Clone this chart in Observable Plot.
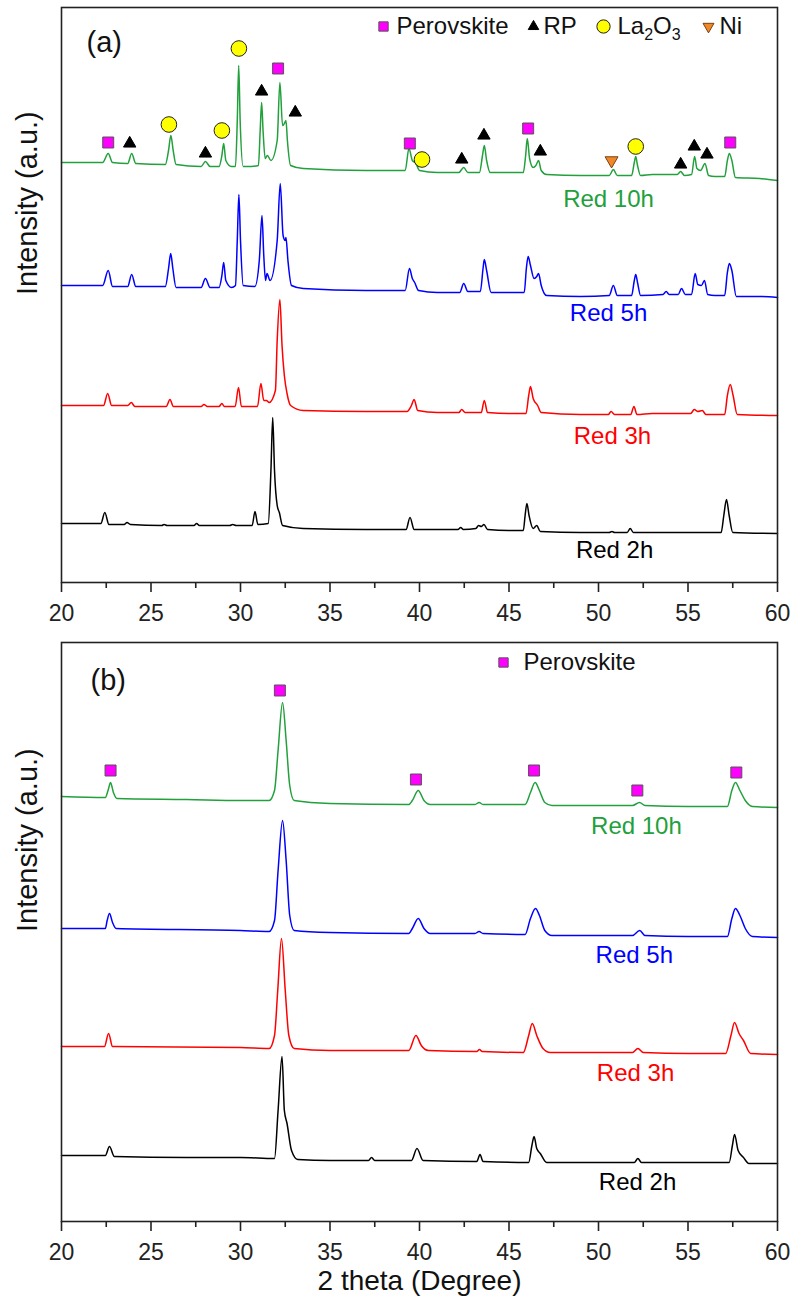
<!DOCTYPE html>
<html>
<head>
<meta charset="utf-8">
<script src="https://cdn.jsdelivr.net/npm/d3@7"></script>
<script src="https://cdn.jsdelivr.net/npm/@observablehq/plot@0.6"></script>
<style>
  html, body { margin: 0; padding: 0; background: #fff; }
  #chart svg { display: block; }
</style>
</head>
<body>
<div id="chart"></div>
<script>
// ---------- DATA (2θ in degrees, intensity in stacked arbitrary units) ----------
const majorTicks = [20, 25, 30, 35, 40, 45, 50, 55, 60];
const minorTicks = [22.5, 27.5, 32.5, 37.5, 42.5, 47.5, 52.5, 57.5];

// Panel (a)
const a_red10h = [[20,438],[22.3,438],[22.61,447],[22.85,438],[23.7,437],[23.92,447],[24.15,437],[25.8,436],[25.98,450],[26.11,465],[26.24,450],[26.4,436],[27.8,434],[28.04,439],[28.3,434],[28.8,434],[28.96,445],[29.06,457],[29.18,440],[29.5,434],[29.72,434],[29.82,480],[29.9,535],[29.98,480],[30.15,434],[30.6,434],[31.0,435],[31.1,470],[31.18,498],[31.26,470],[31.38,442],[31.5,445],[31.7,440],[32.05,460],[32.2,518],[32.35,475],[32.48,478],[32.54,480],[32.62,460],[32.8,435],[33.5,432],[37.0,430],[39.2,430],[39.41,452],[39.6,440],[39.8,437],[40.0,430],[41.0,428],[42.2,428],[42.47,433],[42.7,428],[43.35,428],[43.52,445],[43.62,455],[43.75,440],[43.95,428],[45.0,428],[45.8,428],[45.93,445],[46.02,462],[46.15,442],[46.35,433],[46.5,435],[46.65,440],[46.8,430],[47.1,426],[49.0,425],[50.6,425],[50.83,431],[51.05,425],[51.85,425],[52.0,438],[52.08,444],[52.17,436],[52.35,425],[53.0,426],[54.4,426],[54.59,429],[54.8,425],[55.2,426],[55.37,444],[55.5,432],[55.7,430],[55.95,437],[56.15,425],[56.5,424],[57.05,424],[57.2,440],[57.31,447],[57.45,440],[57.65,423],[59.0,422],[60,420]];
const a_red5h = [[20,315],[22.3,315],[22.61,330],[22.85,314],[23.7,314],[23.92,326],[24.15,314],[25.8,314],[25.98,332],[26.1,347],[26.22,332],[26.4,313],[27.8,313],[28.04,322],[28.3,313],[28.8,313],[28.96,325],[29.06,338],[29.18,320],[29.5,313],[29.72,315],[29.82,360],[29.91,406],[30.0,360],[30.15,315],[30.8,314],[31.05,340],[31.2,385],[31.3,345],[31.4,320],[31.48,327],[31.65,320],[32.05,360],[32.22,417],[32.38,365],[32.5,360],[32.54,363],[32.65,340],[32.85,315],[33.5,312],[37,310],[39.2,310],[39.44,332],[39.6,322],[39.73,318],[39.95,310],[41,308],[42.25,308],[42.47,317],[42.7,309],[43.4,309],[43.55,332],[43.62,341],[43.75,330],[44.0,308],[45,308],[45.85,308],[45.97,332],[46.07,344],[46.2,335],[46.4,322],[46.55,324],[46.65,327],[46.8,315],[47.1,305],[49,304],[50.6,305],[50.83,315],[51.05,305],[51.85,305],[52.0,320],[52.08,326],[52.18,318],[52.35,305],[53.6,306],[53.78,309],[53.95,306],[54.45,306],[54.64,312],[54.85,306],[55.2,306],[55.4,327],[55.55,316],[55.75,315],[55.92,320],[56.1,306],[56.5,305],[57.05,305],[57.2,328],[57.31,337],[57.45,330],[57.7,304],[59,304],[60,303]];
const a_red3h = [[20,195],[22.35,195],[22.58,207],[22.8,195],[23.7,195],[23.9,198],[24.1,194],[25.85,194],[26.06,201],[26.25,194],[27.8,194],[27.96,196],[28.15,194],[28.8,194],[28.96,197],[29.1,194],[29.7,194],[29.89,213],[30.05,194],[30.95,194],[31.14,217],[31.3,200],[31.45,200],[31.6,198],[31.95,210],[32.05,260],[32.2,301],[32.32,255],[32.45,225],[32.6,207],[32.8,195],[33.5,190],[37,189],[39.3,189],[39.55,195],[39.7,201],[39.9,190],[41,188],[42.2,188],[42.36,191],[42.55,188],[43.45,188],[43.62,200],[43.8,188],[45,187],[45.95,187],[46.1,205],[46.2,214],[46.35,202],[46.6,195],[46.8,188],[49,186],[50.55,186],[50.7,189],[50.9,186],[51.8,186],[51.98,194],[52.15,186],[53,187],[55.15,187],[55.35,191],[55.55,189],[55.8,190],[56.0,186],[57.05,186],[57.2,205],[57.36,216],[57.52,205],[57.75,186],[60,185]];
const a_red2h = [[20,77],[22.2,77],[22.42,88],[22.65,76],[23.5,76],[23.66,78],[23.85,76],[25.6,75],[25.73,76],[25.9,75],[27.4,75],[27.55,77],[27.7,75],[29.4,75],[29.57,76],[29.75,75],[30.65,75],[30.81,89],[30.97,76],[31.55,77],[31.7,130],[31.8,183],[31.9,130],[32.05,95],[32.17,88],[32.35,75],[33.5,72],[37,71],[39.25,71],[39.47,83],[39.7,71],[41,71],[42.15,71],[42.3,73],[42.45,71],[43.15,72],[43.3,75],[43.45,74],[43.6,76],[43.8,71],[45,70],[45.8,70],[45.9,85],[46.0,97],[46.12,85],[46.35,72],[46.55,75],[46.75,69],[49,68],[50.6,68],[50.75,69],[50.9,68],[51.6,68],[51.77,72],[51.95,68],[54,68],[56.85,68],[57.0,85],[57.15,101],[57.3,85],[57.5,68],[60,67]];

// Panel (a) phase markers [2θ, intensity]
const a_perovskite = [[22.61,458],[32.1,532],[39.46,457],[46.07,472],[57.36,458]];
const a_rp = [[23.81,457],[28.04,447],[31.18,509],[33.06,488],[42.36,441],[43.6,465],[46.75,449],[54.59,436],[55.35,454],[56.06,446]];
const a_la2o3 = [[26.0,476],[28.96,470],[29.91,552],[40.14,441],[52.08,454]];
const a_ni = [[50.73,440]];

// Panel (b)
const b_red10h = [[20,454],[22.45,453],[22.6,460],[22.74,468],[22.9,458],[23.1,452],[27,451],[30,450],[31.6,450],[31.9,460],[32.1,500],[32.35,548],[32.55,510],[32.75,465],[33.0,450],[35,447],[39.4,446],[39.6,450],[39.93,460],[40.25,450],[40.6,446],[43.1,446],[43.33,448],[43.55,446],[45.9,446],[46.2,458],[46.46,468],[46.7,460],[47.0,448],[47.4,445],[51.9,445],[52.29,448],[52.6,445],[55,444],[57.2,444],[57.45,460],[57.65,468],[57.9,460],[58.2,450],[58.6,444],[60,443]];
const b_red5h = [[20,322],[22.45,322],[22.55,330],[22.68,337],[22.85,328],[23.05,322],[30,320],[31.6,319],[31.9,330],[32.1,380],[32.35,430],[32.55,390],[32.75,335],[33.0,320],[35,318],[39.4,317],[39.6,322],[39.93,332],[40.25,322],[40.6,317],[43.1,317],[43.33,319],[43.55,317],[45.9,316],[46.2,332],[46.48,342],[46.7,335],[47.0,320],[47.4,315],[51.9,315],[52.3,320],[52.6,315],[55,314],[57.2,314],[57.45,332],[57.65,342],[57.9,335],[58.2,322],[58.6,314],[60,313]];
const b_red3h = [[20,204],[22.4,204],[22.63,217],[22.85,204],[30,203],[31.6,202],[31.9,215],[32.08,260],[32.29,312],[32.5,260],[32.7,215],[33.0,202],[35,200],[39.4,200],[39.8,215],[40.1,205],[40.5,200],[43.2,199],[43.35,201],[43.5,199],[45.8,198],[46.1,215],[46.3,227],[46.55,215],[46.9,202],[47.3,198],[51.9,198],[52.2,202],[52.5,198],[55,197],[57.1,197],[57.4,215],[57.6,228],[57.85,217],[58.1,210],[58.5,197],[60,196]];
const b_red2h = [[20,95],[22.45,95],[22.68,104],[22.95,94],[27,93],[30,93],[31.9,92],[32.1,140],[32.32,194],[32.45,140],[32.6,127],[32.85,100],[33.2,91],[35,90],[37.15,90],[37.32,93],[37.5,90],[39.55,90],[39.86,102],[40.2,90],[43.2,89],[43.38,96],[43.55,89],[46.1,88],[46.28,105],[46.4,114],[46.55,102],[46.75,97],[47.1,88],[52.0,88],[52.2,92],[52.4,88],[55,88],[57.3,88],[57.48,105],[57.6,116],[57.8,100],[58.1,93],[58.4,87],[60,87]];
const b_perovskite = [[22.74,480],[32.2,560],[39.8,471],[46.4,480],[52.17,460],[57.7,478]];

// Series labels [2θ, intensity]
const seriesNames = ["Red 10h", "Red 5h", "Red 3h", "Red 2h"];
const a_labelPos = [[50.56,401],[50.56,287],[50.78,164],[50.9,50]];
const b_labelPos = [[52.12,424],[52.0,295],[52.07,177],[52.18,68]];

// Legend entries
const legendA = ["Perovskite", "RP", "La2O3", "Ni"];
const legendB = ["Perovskite"];

// ---------- STYLE ----------
const seriesColors = ["#22a03c", "#0000ff", "#ff0000", "#000000"];
const FONT = "'Liberation Sans', Arial, Helvetica, sans-serif";
const W = 791;
const phaseStyle = {
  Perovskite: {symbol: "square", fill: "#ff00ff", stroke: "#555", r: 6.2, rotate: 0},
  RP: {symbol: "triangle", fill: "#000", stroke: "#000", r: 4.6, rotate: 0},
  La2O3: {symbol: "circle", fill: "#ffff00", stroke: "#222", r: 7.8, rotate: 0},
  Ni: {symbol: "triangle", fill: "#f0882a", stroke: "#7a4010", r: 4.8, rotate: 180}
};

function markers(data, phase, scale = 1) {
  const s = phaseStyle[phase];
  return Plot.dot(data, {
    x: d => d[0], y: d => d[1], symbol: s.symbol, fill: s.fill, stroke: s.stroke,
    strokeWidth: 1, r: s.r * scale, rotate: s.rotate
  });
}

function legendMarks(items, markerDx, textDx, dy) {
  const out = [];
  items.forEach((name, i) => {
    const s = phaseStyle[name];
    out.push(Plot.dot([name], {
      frameAnchor: "top-left", dx: markerDx[i], dy: dy, symbol: s.symbol,
      fill: s.fill, stroke: s.stroke, strokeWidth: 1, r: s.r * 0.85, rotate: s.rotate
    }));
    out.push(Plot.text([name], {
      text: d => d, frameAnchor: "top-left", dx: textDx[i], dy: dy, lineAnchor: "middle",
      textAnchor: "start", fontSize: 24, fill: "#111"
    }));
  });
  return out;
}

function panel({series, labelPos, markersList, legend, height, marginTop, marginBottom, yDomain, tag, tagDx, tagDy, xTitle}) {
  const marks = [];
  series.forEach((s, i) => {
    marks.push(Plot.line(s, {x: d => d[0], y: d => d[1], stroke: seriesColors[i], strokeWidth: 1.5, curve: "monotone-x"}));
  });
  marks.push(...markersList);
  marks.push(Plot.text(labelPos, {
    x: d => d[0], y: d => d[1], text: (d, i) => seriesNames[i],
    fill: (d, i) => seriesColors[i], fontSize: 24
  }));
  marks.push(...legend);
  marks.push(Plot.text([tag], {text: d => d, frameAnchor: "top-left", dx: tagDx, dy: tagDy, lineAnchor: "middle", textAnchor: "start", fontSize: 29, fill: "#111"}));
  marks.push(Plot.text(["Intensity (a.u.)"], {text: d => d, frameAnchor: "left", dx: -34, rotate: -90, lineAnchor: "middle", fontSize: 29, fill: "#111"}));
  if (xTitle) marks.push(Plot.text([xTitle], {text: d => d, frameAnchor: "bottom", dy: 60, lineAnchor: "middle", fontSize: 28, fill: "#111"}));
  marks.push(Plot.frame({stroke: "#222", strokeWidth: 1.6}));
  marks.push(Plot.axisX({ticks: majorTicks, tickSize: 10, tickPadding: 12, fontSize: 23, tickFormat: d => String(d), label: null, strokeWidth: 1.6}));
  marks.push(Plot.axisX({ticks: minorTicks, tickSize: 6, tickFormat: () => "", label: null, strokeWidth: 1.6}));
  return Plot.plot({
    width: W, height, marginLeft: 61, marginRight: 14, marginTop, marginBottom,
    style: {fontFamily: FONT, color: "#222", background: "#fff", overflow: "visible"},
    x: {domain: [20, 60], label: null},
    y: {domain: yDomain, axis: null},
    marks
  });
}

const chartA = panel({
  series: [a_red10h, a_red5h, a_red3h, a_red2h],
  labelPos: a_labelPos,
  markersList: [markers(a_perovskite, "Perovskite"), markers(a_rp, "RP"), markers(a_la2o3, "La2O3"), markers(a_ni, "Ni")],
  legend: legendMarks(legendA, [322, 472, 542, 647], [335, 482, 556, 658], 19),
  height: 640, marginTop: 7, marginBottom: 58, yDomain: [18, 593],
  tag: "(a)", tagDx: 25, tagDy: 35
});
const chartB = panel({
  series: [b_red10h, b_red5h, b_red3h, b_red2h],
  labelPos: b_labelPos,
  markersList: [markers(b_perovskite, "Perovskite")],
  legend: legendMarks(legendB, [442], [462], 20),
  height: 670, marginTop: 2, marginBottom: 89, yDomain: [29, 608],
  tag: "(b)", tagDx: 29, tagDy: 38, xTitle: "2 theta (Degree)"
});

const root = document.getElementById("chart");
root.append(chartA, chartB);

// Subscripts for La2O3
d3.selectAll("#chart text").each(function() {
  const t = d3.select(this);
  if (t.text() === "La2O3") {
    t.text(null);
    t.append("tspan").text("La");
    t.append("tspan").text("2").attr("font-size", 16).attr("dy", 6);
    t.append("tspan").text("O").attr("dy", -6);
    t.append("tspan").text("3").attr("font-size", 16).attr("dy", 6);
  }
});
</script>
</body>
</html>
